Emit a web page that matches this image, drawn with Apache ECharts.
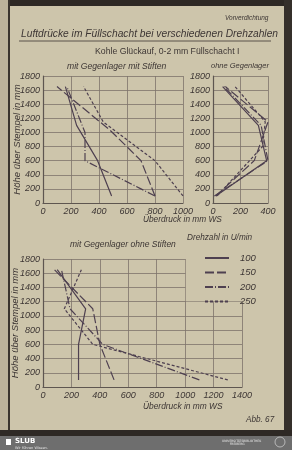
<!DOCTYPE html>
<html>
<head>
<meta charset="utf-8">
<script src="https://cdn.jsdelivr.net/npm/echarts@6/dist/echarts.min.js"></script>
<style>
html, body { margin: 0; padding: 0; background: #2b2622; }
#chart { width: 292px; height: 450px; }
</style>
</head>
<body>
<div id="chart"></div>
<script>
// Drehzahl in U/min
const drehzahlen = ['100', '150', '200', '250'];

// mit Gegenlager mit Stiften  [Überdruck mm WS, Höhe mm]
const mitStiften100 = [[490, 100], [390, 600], [240, 1100], [160, 1650]];
const mitStiften150 = [[800, 100], [700, 600], [480, 1030], [100, 1650]];
const mitStiften200 = [[800, 100], [700, 200], [300, 600], [300, 1000], [170, 1650]];
const mitStiften250 = [[1000, 100], [800, 600], [430, 1150], [290, 1650]];

// ohne Gegenlager
const ohneGegen100 = [[20, 100], [390, 600], [330, 1100], [70, 1650]];
const ohneGegen150 = [[20, 100], [300, 600], [400, 1150], [90, 1650]];
const ohneGegen200 = [[10, 100], [400, 600], [350, 1100], [80, 1650]];
const ohneGegen250 = [[30, 100], [360, 800], [380, 1150], [160, 1650]];

// mit Gegenlager ohne Stiften
const ohneStiften100 = [[250, 100], [250, 600], [300, 1100], [100, 1650]];
const ohneStiften150 = [[500, 100], [400, 600], [350, 1100], [80, 1650]];
const ohneStiften200 = [[1100, 100], [420, 600], [190, 1100], [130, 1650]];
const ohneStiften250 = [[1300, 100], [350, 600], [150, 1100], [270, 1650]];

const paper = '#cdc5ab';
const ink = '#3d3634';
const lineCol = '#4e4050';
const linienArt = { '100': 'solid', '150': [9, 3], '200': [8, 2, 1, 2], '250': [3, 2] };
const font = 'Liberation Sans';

var myChart = echarts.init(document.getElementById('chart'));

function xAchse(idx, max) {
    return {
        type: 'value', gridIndex: idx, min: 0, max: max, interval: 200,
        axisLine: { show: true, lineStyle: { color: '#5e5650', width: 1.2 } },
        axisTick: { show: false },
        splitLine: { show: true, lineStyle: { color: '#7d746b', width: 0.8 } },
        axisLabel: { fontSize: 9, fontStyle: 'italic', fontFamily: font, color: ink, margin: 4,
                     formatter: v => String(v) }
    };
}
function yAchse(idx, name, gap) {
    return {
        type: 'value', gridIndex: idx, min: 0, max: 1800, interval: 200,
        name: name, nameLocation: 'middle', nameGap: gap, nameRotate: 90, nameMoveOverlap: false,
        nameTextStyle: { fontSize: 9.5, fontStyle: 'italic', fontFamily: font, color: ink },
        axisLine: { show: true, lineStyle: { color: '#5e5650', width: 1.2 } },
        axisTick: { show: false },
        splitLine: { show: true, lineStyle: { color: '#7d746b', width: 0.8 } },
        axisLabel: { fontSize: 9, fontStyle: 'italic', fontFamily: font, color: ink, margin: 3,
                     formatter: v => String(v) }
    };
}
function linie(name, data, idx) {
    return {
        name: name, type: 'line', xAxisIndex: idx, yAxisIndex: idx, data: data,
        symbol: 'none', showSymbol: false, silent: true, z: 2,
        itemStyle: { color: lineCol },
        lineStyle: { color: lineCol, width: 1.2, type: linienArt[name] }
    };
}
function text(x, y, t, size, extra) {
    return Object.assign({
        type: 'text', x: x, y: y, z: 10,
        style: { text: t, fontSize: size, fontStyle: 'italic', fontFamily: font, fill: ink }
    }, extra || {});
}

myChart.setOption({
    animation: false,
    backgroundColor: paper,
    grid: [
        { left: 43, top: 76, width: 140, height: 127, outerBoundsMode: 'none', containLabel: false },
        { left: 213, top: 76, width: 55, height: 127, outerBoundsMode: 'none', containLabel: false },
        { left: 43, top: 259, width: 199, height: 128, outerBoundsMode: 'none', containLabel: false }
    ],
    xAxis: [xAchse(0, 1000), xAchse(1, 400), xAchse(2, 1400)],
    yAxis: [yAchse(0, 'Höhe über Stempel in mm', 21), yAchse(1, '', 20), yAchse(2, 'Höhe über Stempel in mm', 23)],
    legend: {
        data: drehzahlen, orient: 'vertical', left: 199, top: 248,
        itemWidth: 24, itemHeight: 8, itemGap: 4.5, z: 6,
        itemStyle: { opacity: 0 },
        textStyle: { fontSize: 9.5, fontStyle: 'italic', fontFamily: font, color: ink, padding: [0, 0, 0, 6] }
    },
    series: [
        linie('100', mitStiften100, 0), linie('150', mitStiften150, 0),
        linie('200', mitStiften200, 0), linie('250', mitStiften250, 0),
        linie('100', ohneGegen100, 1), linie('150', ohneGegen150, 1),
        linie('200', ohneGegen200, 1), linie('250', ohneGegen250, 1),
        linie('100', ohneStiften100, 2), linie('150', ohneStiften150, 2),
        linie('200', ohneStiften200, 2), linie('250', ohneStiften250, 2)
    ],
    graphic: [
        // Buchrand
        { type: 'rect', shape: { x: 0, y: 0, width: 292, height: 6 }, style: { fill: '#2e2925' }, z: 1 },
        { type: 'rect', shape: { x: 0, y: 0, width: 8, height: 436 }, style: { fill: '#bcb29a' }, z: 1 },
        { type: 'rect', shape: { x: 8, y: 0, width: 2, height: 436 }, style: { fill: '#3a332d' }, z: 1 },
        { type: 'rect', shape: { x: 284, y: 0, width: 8, height: 436 }, style: { fill: '#35302b' }, z: 1 },
        { type: 'rect', shape: { x: 0, y: 430, width: 292, height: 6 }, style: { fill: '#2e2925' }, z: 1 },
        { type: 'rect', shape: { x: 0, y: 436, width: 292, height: 14 }, style: { fill: '#6e6e6e' }, z: 1 },
        { type: 'rect', shape: { x: 6, y: 439, width: 5, height: 6 }, style: { fill: '#ffffff' }, z: 2 },
        { type: 'text', x: 15, y: 438, z: 2, style: { text: 'SLUB', fontSize: 7, fontWeight: 'bold', fontFamily: 'DejaVu Sans', fill: '#ffffff' } },
        { type: 'text', x: 15, y: 446, z: 2, style: { text: 'Wir führen Wissen.', fontSize: 3.5, fontFamily: 'DejaVu Sans', fill: '#e0e0e0' } },
        { type: 'text', x: 222, y: 440, z: 2, style: { text: 'UNIVERSITÄTSBIBLIOTHEK\n        FREIBERG', fontSize: 3, fontFamily: 'DejaVu Sans', fill: '#e8e8e8' } },
        { type: 'circle', shape: { cx: 280, cy: 442, r: 5 }, style: { fill: 'none', stroke: '#e8e8e8', lineWidth: 0.6 }, z: 2 },
        // Abdeckung rechts oben im unteren Diagramm (Legendenfeld)
        { type: 'rect', shape: { x: 185.8, y: 250, width: 60, height: 51.3 }, style: { fill: paper }, z: 3 },
        // Texte
        text(225, 15, 'Vorverdichtung', 6.5),
        text(21, 28, 'Luftdrücke im Füllschacht bei verschiedenen Drehzahlen', 11, { scaleX: 0.93 }),
        { type: 'line', shape: { x1: 19, y1: 41, x2: 271, y2: 41 }, style: { stroke: ink, lineWidth: 0.8 }, z: 10 },
        text(95, 47, '', 8.7, { style: { text: 'Kohle Glückauf, 0-2 mm Füllschacht I', fontSize: 8.7, fontFamily: font, fill: ink } }),
        text(67, 62, 'mit Gegenlager mit Stiften', 8.6),
        text(211, 62, 'ohne Gegenlager', 7.5),
        text(143, 216, 'Überdruck in mm WS', 8.3),
        text(70, 240, 'mit Gegenlager ohne Stiften', 8.5),
        text(187, 234, 'Drehzahl in U/min', 8.2),
        text(143, 403, 'Überdruck in mm WS', 8.4),
        text(246, 416, 'Abb. 67', 8.2)
    ]
});
</script>
</body>
</html>
